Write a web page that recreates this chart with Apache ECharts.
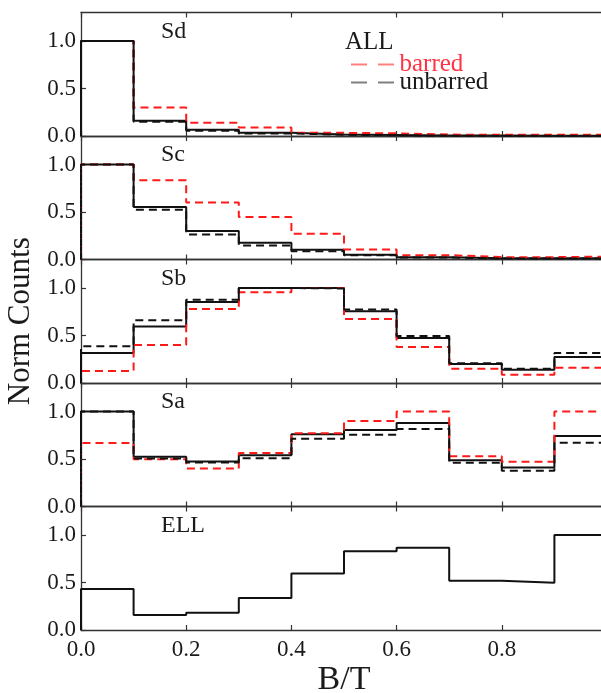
<!DOCTYPE html>
<html>
<head>
<meta charset="utf-8">
<script src="https://cdn.jsdelivr.net/npm/echarts@6/dist/echarts.min.js"></script>
<style>
html, body { margin: 0; padding: 0; background: #fff; }
#main { width: 601px; height: 693px; }
</style>
</head>
<body>
<div id="main"></div>
<script>
// bin edges of B/T histogram
var binEdges = [0.0, 0.1, 0.2, 0.3, 0.4, 0.5, 0.6, 0.7, 0.8, 0.9, 1.0];
var xTickValues = [0.0, 0.2, 0.4, 0.6, 0.8];
var yTickValues = [0.0, 0.5, 1.0];

// normalised counts per bin
var sdAll      = [1.0, 0.16, 0.065, 0.035, 0.015, 0.010, 0.005, 0.004, 0.003, 0.003];
var sdBarred   = [1.0, 0.30, 0.14, 0.09, 0.033, 0.028, 0.015, 0.012, 0.012, 0.012];
var sdUnbarred = [1.0, 0.15, 0.055, 0.027, 0.013, 0.008, 0.004, 0.003, 0.002, 0.002];

var scAll      = [1.0, 0.553, 0.30, 0.176, 0.102, 0.050, 0.025, 0.012, 0.012, 0.012];
var scBarred   = [1.0, 0.835, 0.60, 0.447, 0.271, 0.106, 0.046, 0.025, 0.025, 0.030];
var scUnbarred = [1.0, 0.525, 0.264, 0.148, 0.088, 0.046, 0.022, 0.010, 0.010, 0.010];

var sbAll      = [0.316, 0.596, 0.853, 1.0, 1.0, 0.754, 0.474, 0.200, 0.140, 0.274];
var sbBarred   = [0.126, 0.400, 0.779, 0.954, 1.0, 0.674, 0.379, 0.151, 0.088, 0.161];
var sbUnbarred = [0.386, 0.660, 0.877, 1.0, 0.995, 0.775, 0.495, 0.207, 0.151, 0.316];

var saAll      = [1.0, 0.523, 0.474, 0.540, 0.760, 0.805, 0.878, 0.488, 0.411, 0.742];
var saBarred   = [0.669, 0.498, 0.400, 0.564, 0.770, 0.900, 1.0, 0.530, 0.470, 1.0];
var saUnbarred = [1.0, 0.505, 0.463, 0.509, 0.714, 0.756, 0.815, 0.460, 0.376, 0.672];

var ellAll     = [0.432, 0.158, 0.182, 0.337, 0.596, 0.828, 0.867, 0.519, 0.498, 1.0];

var panels = [
    { label: 'Sd',  all: sdAll,  barred: sdBarred, unbarred: sdUnbarred },
    { label: 'Sc',  all: scAll,  barred: scBarred, unbarred: scUnbarred },
    { label: 'Sb',  all: sbAll,  barred: sbBarred, unbarred: sbUnbarred },
    { label: 'Sa',  all: saAll,  barred: saBarred, unbarred: saUnbarred },
    { label: 'ELL', all: ellAll }
];

var FONT = '"Liberation Serif", "DejaVu Serif", serif';
var axisColor = '#333';

// step outline like matplotlib histtype='step'
function stepData(vals) {
    var pts = [[binEdges[0], 0]];
    for (var i = 0; i < vals.length; i++) {
        pts.push([binEdges[i], vals[i]]);
    }
    pts.push([binEdges[binEdges.length - 1], vals[vals.length - 1]]);
    pts.push([binEdges[binEdges.length - 1], 0]);
    return pts;
}

var chart = echarts.init(document.getElementById('main'));

var grids = [], xAxes = [], yAxes = [], series = [], graphics = [];
var panelTop = 12.5, panelH = 123.5;

panels.forEach(function (p, i) {
    var top = panelTop + panelH * i;
    var last = (i === panels.length - 1);
    grids.push({ left: 81, width: 526, top: top, height: panelH,
                 containLabel: false, outerBoundsMode: 'none' });

    var xBase = {
        type: 'value', gridIndex: i, min: 0, max: 1,
        axisLine: { show: true, onZero: false, lineStyle: { color: axisColor, width: 1.3 } },
        axisTick: { show: true, inside: true, length: 5, customValues: xTickValues,
                    lineStyle: { color: axisColor, width: 1.2 } },
        splitLine: { show: false }
    };
    xAxes.push(Object.assign({}, xBase, {
        position: 'bottom',
        axisLabel: { show: last, customValues: xTickValues, margin: 8,
                     fontFamily: FONT, fontSize: 23, color: '#1a1a1a',
                     formatter: function (v) { return v.toFixed(1); } },
        name: last ? 'B/T' : '',
        nameLocation: 'middle', nameGap: 33,
        nameTextStyle: { fontFamily: FONT, fontSize: 34, color: '#1a1a1a' }
    }));
    xAxes.push(Object.assign({}, xBase, { position: 'top', axisLabel: { show: false } }));

    var yBase = {
        type: 'value', gridIndex: i, min: 0, max: 1.3,
        axisLine: { show: true, onZero: false, lineStyle: { color: axisColor, width: 1.3 } },
        axisTick: { show: true, inside: true, length: 5, customValues: yTickValues,
                    lineStyle: { color: axisColor, width: 1.2 } },
        splitLine: { show: false }
    };
    yAxes.push(Object.assign({}, yBase, {
        position: 'left',
        axisLabel: { show: true, customValues: yTickValues, margin: 5,
                     fontFamily: FONT, fontSize: 23, color: '#1a1a1a',
                     formatter: function (v) { return v.toFixed(1); } },
        name: i === 2 ? 'Norm Counts' : '',
        nameLocation: 'middle', nameGap: 42,
        nameTextStyle: { fontFamily: FONT, fontSize: 31, color: '#1a1a1a' }
    }));
    yAxes.push(Object.assign({}, yBase, { position: 'right', axisLabel: { show: false } }));

    var common = {
        type: 'line', step: 'end', symbol: 'none', clip: false,
        xAxisIndex: i * 2, yAxisIndex: i * 2, silent: true, animation: false
    };
    series.push(Object.assign({}, common, {
        name: 'ALL', data: stepData(p.all),
        lineStyle: { color: '#111', width: 2, type: 'solid' }, z: 3
    }));
    if (p.barred) {
        series.push(Object.assign({}, common, {
            name: 'barred', data: stepData(p.barred),
            lineStyle: { color: '#ff1a1a', width: 2, type: [8, 5] }, z: 4
        }));
    }
    if (p.unbarred) {
        series.push(Object.assign({}, common, {
            name: 'unbarred', data: stepData(p.unbarred),
            lineStyle: { color: '#111', width: 2, type: [8, 5] }, z: 5
        }));
    }

    graphics.push({
        type: 'text', left: 161, top: top + 7, z: 10,
        style: { text: p.label, font: '24px ' + FONT, fill: '#1a1a1a' }
    });
});

graphics.push({
    type: 'text', left: 345, top: 30, z: 10,
    style: { text: 'ALL', font: '25px ' + FONT, fill: '#1a1a1a' }
});

var dashIcon = 'path://M0,0h16v2H0z M27,0h16v2H27z';

option = {
    backgroundColor: '#fff',
    animation: false,
    grid: grids,
    xAxis: xAxes,
    yAxis: yAxes,
    legend: {
        orient: 'vertical', left: 346, top: 47,
        itemWidth: 44, itemHeight: 2, itemGap: -7,
        selectedMode: false,
        textStyle: { fontFamily: FONT, fontSize: 25 },
        data: [
            { name: 'barred', icon: dashIcon,
              itemStyle: { color: '#ff8080', borderWidth: 0 },
              textStyle: { color: '#ff3344' } },
            { name: 'unbarred', icon: dashIcon,
              itemStyle: { color: '#808080', borderWidth: 0 },
              textStyle: { color: '#1a1a1a' } }
        ]
    },
    graphic: graphics,
    series: series
};

if (option && typeof option === "object") {
    chart.setOption(option, true);
}
</script>
</body>
</html>
